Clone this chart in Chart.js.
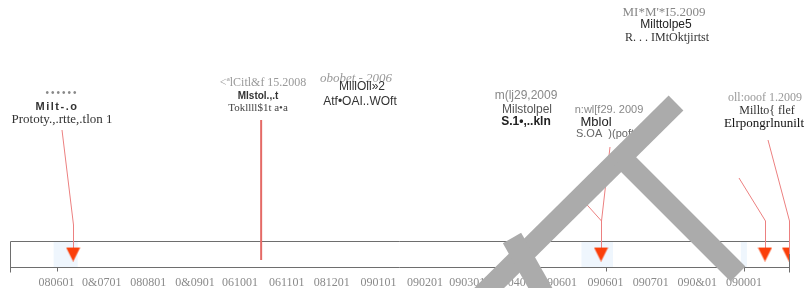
<!DOCTYPE html>
<html><head><meta charset="utf-8">
<script src="https://cdn.jsdelivr.net/npm/chart.js@4/dist/chart.umd.min.js"></script>
<style>html,body{margin:0;padding:0;background:#fff;overflow:hidden}canvas{display:block}</style>
</head><body>
<canvas id="c" width="806" height="288"></canvas>
<script>
// ---------------- data ----------------
const axisStart = '2008-05-01';
const axisEnd = '2009-10-01';
const tickDates = ['2008-06-01','2008-07-01','2008-08-01','2008-09-01','2008-10-01','2008-11-01','2008-12-01',
  '2009-01-01','2009-02-01','2009-03-01','2009-04-01','2009-05-01','2009-06-01','2009-07-01','2009-08-01','2009-09-01'];
const tickLabels = ['080601','0&0701','080801','0&0901','061001','061101','081201','090101',
  '090201','090301','090401','090601','090601','090701','090&01','090001'];
const milestoneDates = ['2008-06-12','2009-05-29','2009-09-15','2009-10-01'];
const markerLineDate = '2008-10-15';
const labelDateText = ['\u2022\u2022\u2022\u2022\u2022\u2022','<\u00aalCitl&f 15.2008','obobet - 2006','m(lj29,2009','n:wl[f29. 2009','MI*M\'*I5.2009','oll:ooof 1.2009'];
const labelTitles = ['Milt-.o','Mlstol.,.t','MlllOll\u00bb2','Milstolpel','Mblol','Milttolpe5','Millto{ flef'];
const labelNotes = ['Prototy.,.rtte,.tlon 1','Tokllll$1t a\u2022a','Atf\u2022OAI..WOft','S.1\u2022,..kln','S.OA  )(poft','R. . . IMtOktjirtst','Elrpongrlnunilt'];
const highlightRanges = [['2008-05-30','2008-06-15'],['2009-05-16','2009-06-06'],['2009-08-30','2009-09-03']];
const markedTicks = ['2008-06-01','2009-06-01','2009-09-01'];

// ---------------- layout / style ----------------
const SERIF = "'Liberation Serif','Times New Roman',serif";
const SANS = "'Liberation Sans',Arial,sans-serif";
const labelLayout = [
  {cx:[62,57,62], ys:[93,107,120], f:[`10px ${SANS}`,`bold 11px ${SANS}`,`13px ${SERIF}`], c:['#888','#333','#333'], ls:['2px','1.5px','0px']},
  {cx:[263,258,258], ys:[83,96,108], f:[`12px ${SERIF}`,`bold 10px ${SANS}`,`11px ${SERIF}`], c:['#999','#333','#444'], ls:['0px','0px','0px']},
  {cx:[356,362,360], ys:[79,87,102], f:[`italic 13px ${SERIF}`,`12px ${SANS}`,`12px ${SANS}`], c:['#999','#333','#333'], ls:['0px','0px','0px']},
  {cx:[526,527,526], ys:[96,110,122], f:[`12px ${SANS}`,`12px ${SANS}`,`bold 12px ${SANS}`], c:['#888','#555','#222'], ls:['0px','0px','0px']},
  {cx:[609,596,605], ys:[110,122,134], f:[`11px ${SANS}`,`13px ${SANS}`,`11px ${SANS}`], c:['#888','#222','#666'], ls:['0px','0px','0px']},
  {cx:[664,666,667], ys:[13,25,38], f:[`13px ${SERIF}`,`12px ${SANS}`,`12px ${SERIF}`], c:['#888','#222','#333'], ls:['0px','0px','0px']},
  {cx:[765,767,764], ys:[98,111,124], f:[`12px ${SERIF}`,`12px ${SERIF}`,`13px ${SERIF}`], c:['#999','#333','#111'], ls:['0px','0px','0px']}
];
// leaders: milestone index, elbow y (px), end point (px)
const leaders = [
  {m:0, elbow:225, to:[62,130]},
  {m:1, elbow:221, to:[580,197]},
  {m:1, elbow:221, to:[610,147]},
  {m:2, elbow:221, to:[739,178]},
  {m:3, elbow:221, to:[768,140]}
];

const DAY = 86400000;
const base = Date.UTC(2008,5,1);
const dayOf = s => { const [y,m,d] = s.split('-').map(Number); return (Date.UTC(y,m-1,d)-base)/DAY; };

// triangle marker image
const tri = document.createElement('canvas');
tri.width = 15; tri.height = 15;
(function(){ const g = tri.getContext('2d'); g.fillStyle = '#fb3f0a'; g.beginPath(); g.moveTo(0.5,1); g.lineTo(14.5,1); g.lineTo(7.5,15); g.closePath(); g.fill(); })();

const BAND_TOP = 0.1;   // y value of the top of the band
const MARK_Y = 0.05;

const timelinePlugin = {
  id:'timeline',
  beforeDatasetsDraw(chart){
    const {ctx, chartArea:a, scales:{x,y}} = chart;
    const top = Math.round(y.getPixelForValue(BAND_TOP)) + 0.5;
    const bot = Math.round(a.bottom) + 0.5;
    ctx.save();
    highlightRanges.forEach(r=>{
      const x0 = x.getPixelForValue(dayOf(r[0])), x1 = x.getPixelForValue(dayOf(r[1]));
      ctx.fillStyle = '#eff6fd'; ctx.fillRect(x0, top, x1-x0, bot-top);
    });
    ctx.strokeStyle = '#6e6e6e'; ctx.lineWidth = 1;
    ctx.beginPath();
    ctx.moveTo(a.left+0.5, top); ctx.lineTo(a.right, top);
    ctx.moveTo(a.left+0.5, bot); ctx.lineTo(a.right, bot);
    ctx.moveTo(a.left+0.5, top); ctx.lineTo(a.left+0.5, bot+5);
    ctx.moveTo(a.right+0.5, top); ctx.lineTo(a.right+0.5, bot+5);
    markedTicks.forEach(t=>{ const px = Math.round(x.getPixelForValue(dayOf(t)))+0.5; ctx.moveTo(px, bot); ctx.lineTo(px, bot+4); });
    ctx.stroke();
    // marker line
    const mx = x.getPixelForValue(dayOf(markerLineDate));
    ctx.strokeStyle = '#e46a66'; ctx.lineWidth = 2;
    ctx.beginPath(); ctx.moveTo(mx, 120); ctx.lineTo(mx, 260); ctx.stroke();
    // leaders
    ctx.strokeStyle = '#ec8080'; ctx.lineWidth = 1;
    leaders.forEach(l=>{
      const px = Math.round(x.getPixelForValue(dayOf(milestoneDates[l.m])))+0.5;
      const py = y.getPixelForValue(MARK_Y);
      ctx.beginPath(); ctx.moveTo(px, py); ctx.lineTo(px, l.elbow); ctx.lineTo(l.to[0], l.to[1]); ctx.stroke();
    });
    ctx.restore();
  },
  afterDraw(chart){
    const {ctx} = chart;
    ctx.save();
    ctx.textAlign = 'center'; ctx.textBaseline = 'middle';
    labelLayout.forEach((L,i)=>{
      const texts = [labelDateText[i], labelTitles[i], labelNotes[i]];
      texts.forEach((t,j)=>{ ctx.font = L.f[j]; ctx.fillStyle = L.c[j]; ctx.letterSpacing = L.ls[j]; ctx.fillText(t, L.cx[j], L.ys[j]); });
    });
    ctx.letterSpacing = '0px';
    // watermark strokes
    ctx.strokeStyle = '#ababab'; ctx.lineWidth = 21; ctx.lineCap = 'butt';
    ctx.beginPath(); ctx.moveTo(472,305); ctx.lineTo(676,103); ctx.stroke();
    ctx.beginPath(); ctx.moveTo(622,158); ctx.lineTo(738,274); ctx.stroke();
    ctx.beginPath(); ctx.moveTo(512,238); ctx.lineTo(546,298); ctx.stroke();
    ctx.restore();
  }
};

new Chart(document.getElementById('c'), {
  type:'scatter',
  data:{ datasets:[{
    data: milestoneDates.map(d=>({x:dayOf(d), y:MARK_Y})),
    pointStyle: tri, pointRadius: 7, pointHoverRadius: 7
  }]},
  options:{
    responsive:false, animation:false, events:[],
    layout:{padding:{left:10, right:17, top:0, bottom:0}},
    plugins:{legend:{display:false}, tooltip:{enabled:false}},
    scales:{
      x:{ type:'linear', min:dayOf(axisStart), max:dayOf(axisEnd),
        grid:{display:false}, border:{display:false},
        afterBuildTicks: s => { s.ticks = tickDates.map(d=>({value:dayOf(d)})); },
        afterFit: s => { s.height = 21; },
        ticks:{ autoSkip:false, maxRotation:0, padding:1, color:'#8a8a8a',
          font:{family:SERIF, size:12},
          callback:(v,i)=>tickLabels[i] }
      },
      y:{ display:false, min:0, max:1 }
    }
  },
  plugins:[timelinePlugin]
});
</script>
</body></html>
